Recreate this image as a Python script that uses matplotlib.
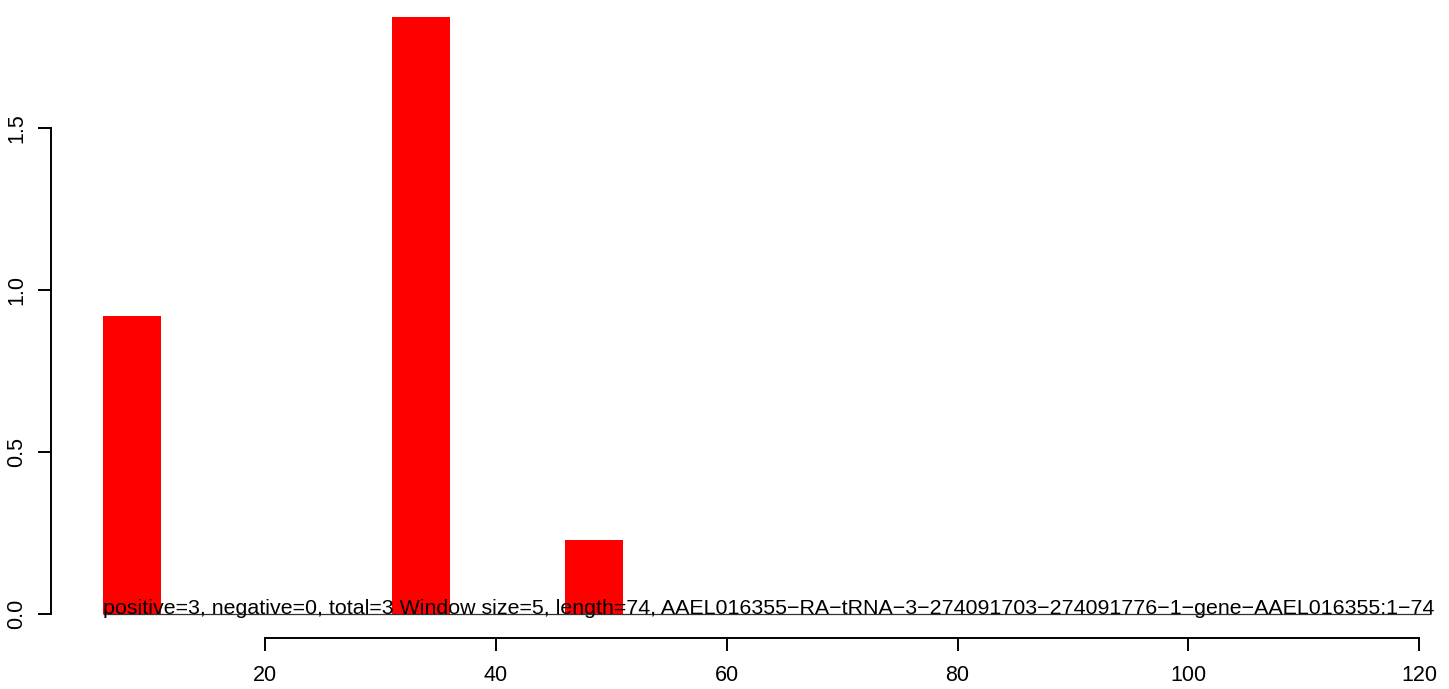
import matplotlib
matplotlib.use("Agg")
import matplotlib.pyplot as plt

plt.rcParams["font.family"] = ["Liberation Sans", "DejaVu Sans"]

# données
positions = [6, 31, 46]
hauteurs = [0.92, 1.844, 0.23]
largeur = 5
xticks = [20, 40, 60, 80, 100, 120]
yticks = [0.0, 0.5, 1.0, 1.5]
ytick_labels = ["0.0", "0.5", "1.0", "1.5"]
legende = ("positive=3, negative=0, total=3 Window size=5, length=74, "
           "AAEL016355\u2212RA\u2212tRNA\u22123\u2212274091703\u2212274091776"
           "\u22121\u2212gene\u2212AAEL016355:1\u221274")

fig = plt.figure(figsize=(14.49, 6.89), dpi=100)
ax = fig.add_axes([51 / 1449, 1 - 638 / 689, (1432 - 51) / 1449, (638 - 17) / 689])

ax.bar(positions, hauteurs, width=largeur, align="edge", color="#ff0000")
ax.hlines(0, 6, 121, color="#333333", linewidth=0.9)
ax.text(6, 0, legende, ha="left", va="baseline", fontsize=15.42)

ax.set_xlim(1.46, 121.1)
ax.set_ylim(-0.0741, 1.844)

for cote in ["top", "right"]:
    ax.spines[cote].set_visible(False)
ax.spines["left"].set_bounds(0, 1.5)
ax.spines["bottom"].set_bounds(20, 120)
ax.spines["left"].set_linewidth(1.4)
ax.spines["bottom"].set_linewidth(1.4)

ax.set_xticks(xticks)
ax.set_xticklabels([str(v) for v in xticks])
ax.set_yticks(yticks)
ax.set_yticklabels(ytick_labels, rotation=90, va="center")
ax.tick_params(axis="both", direction="out", length=9.5, width=1.4, labelsize=15.5)
ax.tick_params(axis="x", pad=10)
ax.tick_params(axis="y", pad=7.5)

fig.savefig("out.png", dpi=100)
